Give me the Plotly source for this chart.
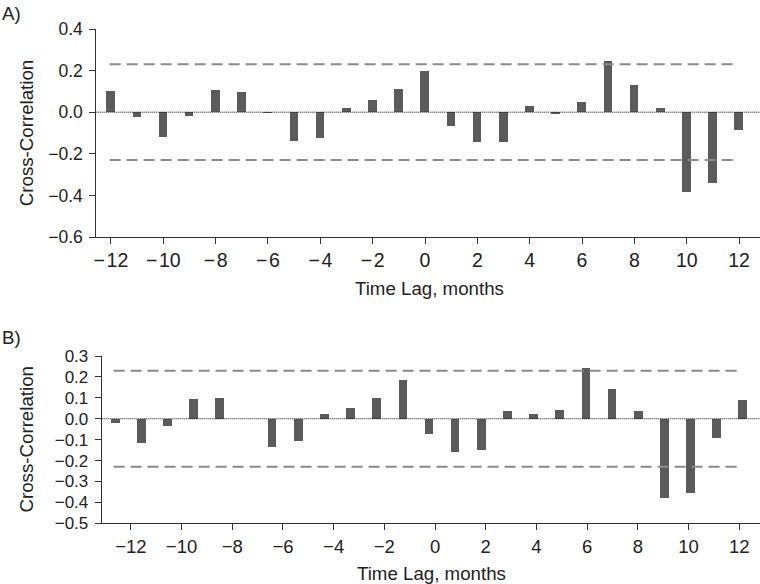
import plotly.graph_objects as go

# ---------------- data ----------------
lags = list(range(-12, 13))
ccf_a = [0.10, -0.024, -0.12, -0.018, 0.105, 0.099, -0.003, -0.139, -0.123, 0.022,
         0.058, 0.112, 0.200, -0.067, -0.141, -0.141, 0.032, -0.005, 0.048, 0.246,
         0.133, 0.022, -0.384, -0.339, -0.086]
ccf_b = [-0.018, -0.115, -0.035, 0.094, 0.097, 0.0, -0.134, -0.105, 0.022, 0.049,
         0.100, 0.185, -0.073, -0.161, -0.150, 0.037, 0.024, 0.041, 0.242, 0.142,
         0.035, -0.379, -0.354, -0.092, 0.092]
conf_limit = 0.23
band_x = [-12.05, 11.85]
xtick_vals = list(range(-12, 13, 2))
ytick_a = [-0.6, -0.4, -0.2, 0.0, 0.2, 0.4]
ytick_b = [-0.5, -0.4, -0.3, -0.2, -0.1, 0.0, 0.1, 0.2, 0.3]

W, H = 760, 584
FONT = "Liberation Sans, Arial, sans-serif"
TXT = "#222222"
BAR = "#5b5b5b"
DASH = "#8c8c8c"
AXC = "#333333"
TITLE_SIZE = 18.7

def fmt_x(v, sep):
    return ("\u2212" + sep + str(-v)) if v < 0 else str(v)

xtick_text_a = [fmt_x(v, "\u200a") for v in xtick_vals]
xtick_text_b = [fmt_x(v, "") for v in xtick_vals]

def py(p):
    return 1 - p / H

fig = go.Figure()

# Panel A
fig.add_trace(go.Bar(x=lags, y=ccf_a, width=0.33, marker=dict(color=BAR, line=dict(width=0)),
                     xaxis="x", yaxis="y", showlegend=False))
for s in (1, -1):
    fig.add_trace(go.Scatter(x=band_x, y=[s * conf_limit] * 2, mode="lines",
                             line=dict(color=DASH, width=2, dash="11px,6px"),
                             xaxis="x", yaxis="y", showlegend=False, hoverinfo="skip"))

# Panel B (bars on their own lag scale, ticks on overlaid axis)
fig.add_trace(go.Bar(x=lags, y=ccf_b, width=0.33, marker=dict(color=BAR, line=dict(width=0)),
                     xaxis="x2", yaxis="y2", showlegend=False))
for s in (1, -1):
    fig.add_trace(go.Scatter(x=band_x, y=[s * conf_limit] * 2, mode="lines",
                             line=dict(color=DASH, width=2, dash="11px,6px"),
                             xaxis="x2", yaxis="y2", showlegend=False, hoverinfo="skip"))
fig.add_trace(go.Scatter(x=xtick_vals, y=[0] * len(xtick_vals), mode="markers",
                         marker=dict(opacity=0), xaxis="x3", yaxis="y2",
                         showlegend=False, hoverinfo="skip"))

axis_common = dict(showline=True, linecolor=AXC, linewidth=1, ticks="outside", ticklen=6,
                   tickwidth=1, tickcolor=AXC, showgrid=False, zeroline=False,
                   automargin=False)

def tf(size):
    return dict(family=FONT, size=size, color=TXT)

fig.update_layout(
    template="none",
    width=W, height=H,
    margin=dict(l=0, r=0, t=0, b=0, pad=0),
    paper_bgcolor="white", plot_bgcolor="white",
    bargap=0,
    xaxis=dict(domain=[96.3 / W, 1], range=[-12.56, 12.80], anchor="y",
               tickvals=xtick_vals, ticktext=xtick_text_a, tickfont=tf(19.5), **axis_common),
    yaxis=dict(domain=[py(237), py(29)], range=[-0.6, 0.4], anchor="x",
               tickvals=ytick_a, tickformat=".1f", tickfont=tf(17.5), ticklabelstandoff=3,
               **axis_common),
    xaxis2=dict(domain=[101.7 / W, 1], range=[-12.505, 12.67], anchor="y2", visible=False,
                automargin=False),
    xaxis3=dict(domain=[101.7 / W, 1], range=[-13.15, 12.82], anchor="y2", overlaying="x2",
                tickvals=xtick_vals, ticktext=xtick_text_b, tickfont=tf(18.5), **axis_common),
    yaxis2=dict(domain=[py(523.3), py(356)], range=[-0.5, 0.3], anchor="x2",
                tickvals=ytick_b, tickformat=".1f", tickfont=tf(17), ticklabelstandoff=3,
                **axis_common),
    shapes=[
        dict(type="line", xref="x domain", yref="y", x0=0, x1=1, y0=0, y1=0,
             line=dict(color="#111111", width=1, dash="1px,1px"), layer="above"),
        dict(type="line", xref="x2 domain", yref="y2", x0=0, x1=1, y0=0, y1=0,
             line=dict(color="#111111", width=1, dash="1px,1px"), layer="above"),
    ],
    annotations=[
        dict(text="A)", x=0.0, y=py(13), xref="paper", yref="paper", xanchor="left",
             yanchor="middle", showarrow=False, font=tf(TITLE_SIZE)),
        dict(text="B)", x=0.0, y=py(337.5), xref="paper", yref="paper", xanchor="left",
             yanchor="middle", showarrow=False, font=tf(TITLE_SIZE)),
        dict(text="Cross-Correlation", x=26.7 / W, y=py(133.5), xref="paper", yref="paper",
             xanchor="center", yanchor="middle", textangle=-90, showarrow=False,
             font=tf(TITLE_SIZE)),
        dict(text="Cross-Correlation", x=26 / W, y=py(439.5), xref="paper", yref="paper",
             xanchor="center", yanchor="middle", textangle=-90, showarrow=False,
             font=tf(TITLE_SIZE)),
        dict(text="Time Lag, months", x=429 / W, y=py(288), xref="paper", yref="paper",
             xanchor="center", yanchor="middle", showarrow=False, font=tf(TITLE_SIZE)),
        dict(text="Time Lag, months", x=431 / W, y=py(573), xref="paper", yref="paper",
             xanchor="center", yanchor="middle", showarrow=False, font=tf(TITLE_SIZE)),
    ],
)

fig.write_html("out.html", config={"displayModeBar": False},
               post_script="document.body.style.margin='0';document.body.style.overflow='hidden';")
